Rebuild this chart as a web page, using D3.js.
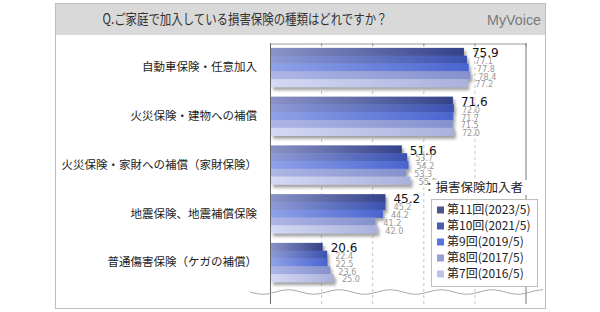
<!DOCTYPE html>
<html>
<head>
<meta charset="utf-8">
<script src="https://cdn.jsdelivr.net/npm/d3@7"></script>
<style>
  body { margin: 0; background: #fff; }
  svg { display: block; font-family: "Noto Sans CJK JP", "Noto Sans", sans-serif; }
</style>
</head>
<body>
<div id="chart"></div>
<script>
// data
var categories = ["自動車保険・任意加入", "火災保険・建物への補償", "火災保険・家財への補償（家財保険）", "地震保険、地震補償保険", "普通傷害保険（ケガの補償）"];
var seriesNames = ["第11回(2023/5)", "第10回(2021/5)", "第9回(2019/5)", "第8回(2017/5)", "第7回(2016/5)"];
var vals2023 = [75.9, 71.6, 51.6, 45.2, 20.6];
var vals2021 = [77.1, 72.0, 53.7, 45.2, 22.4];
var vals2019 = [77.8, 71.7, 54.2, 44.2, 22.5];
var vals2017 = [78.4, 71.5, 53.3, 41.2, 23.6];
var vals2016 = [77.2, 72.0, 55.0, 42.0, 25.0];
var seriesValues = [vals2023, vals2021, vals2019, vals2017, vals2016];
var xTicks = [0, 20, 40, 60, 80, 100];

// colours: gradient left -> right, legend swatch
var gradFrom = ["#8a93c6", "#8d9ad4", "#8fa2e8", "#aeb6e6", "#d5d9f4"];
var gradTo   = ["#34428a", "#3c52b0", "#4a64d0", "#8491cd", "#a9b1dc"];
var swatch   = ["#4b5590", "#4a5db3", "#5874dc", "#95a0d6", "#bcc3e8"];

var W = 600, H = 312;
var svg = d3.select("#chart").append("svg").attr("width", W).attr("height", H);

var defs = svg.append("defs");
seriesNames.forEach(function(s, i) {
  var g = defs.append("linearGradient").attr("id", "grad" + i)
    .attr("x1", 0).attr("x2", 1).attr("y1", 0).attr("y2", 0);
  g.append("stop").attr("offset", "0%").attr("stop-color", gradFrom[i]);
  g.append("stop").attr("offset", "100%").attr("stop-color", gradTo[i]);
});
var f = defs.append("filter").attr("id", "shadow")
  .attr("x", "-5%").attr("y", "-10%").attr("width", "115%").attr("height", "130%");
f.append("feDropShadow").attr("dx", 2).attr("dy", 3).attr("stdDeviation", 1.5)
  .attr("flood-color", "#555").attr("flood-opacity", 0.55);

// frame + title band
svg.append("rect").attr("x", 55.5).attr("y", 3.5).attr("width", 490).attr("height", 305)
  .attr("fill", "#fff").attr("stroke", "#bdbdbd");
svg.append("rect").attr("x", 56).attr("y", 4).attr("width", 489).attr("height", 31)
  .attr("fill", "#d9d9d9");
svg.append("text").attr("x", 245).attr("y", 24).attr("text-anchor", "middle")
  .attr("font-size", 14).attr("fill", "#333")
  .attr("textLength", 285).attr("lengthAdjust", "spacingAndGlyphs")
  .text("Q.ご家庭で加入している損害保険の種類はどれですか？");
svg.append("text").attr("x", 514).attr("y", 25).attr("text-anchor", "middle")
  .attr("font-family", "Liberation Sans").attr("font-size", 15).attr("fill", "#7a7a7a")
  .attr("textLength", 54).attr("lengthAdjust", "spacingAndGlyphs")
  .text("MyVoice");

// scales
var x = d3.scaleLinear().domain([0, 100]).range([270, 525.5]);
var y = d3.scaleBand().domain(categories).range([43, 286.75]).paddingInner(0.2).paddingOuter(0.1);
var ySub = d3.scaleBand().domain(seriesNames).range([0, y.bandwidth()]);
var plotTop = 43, plotBottom = 304;

// grid lines
svg.append("g").selectAll("line").data(xTicks.slice(1, -1)).enter().append("line")
  .attr("x1", function(d) { return x(d) + 0.5; }).attr("x2", function(d) { return x(d) + 0.5; })
  .attr("y1", plotTop).attr("y2", plotBottom)
  .attr("stroke", "#c4c4c4").attr("stroke-dasharray", "3,3");

// top axis
var axTop = svg.append("g").attr("transform", "translate(0," + (plotTop + 0.5) + ")")
  .call(d3.axisTop(x).tickValues(xTicks).tickSize(-3).tickSizeOuter(0).tickFormat(""));
axTop.select(".domain").attr("stroke", "#9a9a9a");
axTop.selectAll(".tick line").attr("stroke", "#9a9a9a");

// side borders
svg.append("line").attr("x1", x(0) + 0.5).attr("x2", x(0) + 0.5).attr("y1", plotTop).attr("y2", plotBottom)
  .attr("stroke", "#666");
svg.append("line").attr("x1", x(100) + 0.5).attr("x2", x(100) + 0.5).attr("y1", plotTop).attr("y2", plotBottom)
  .attr("stroke", "#777");

// wave (axis break mark)
var wavePts = d3.range(250, 544, 1);
svg.append("path").datum(wavePts)
  .attr("d", d3.line().x(function(d) { return d; })
    .y(function(d) { return 292 + 2.2 * Math.sin((d - 250) / 51 * 2 * Math.PI); }))
  .attr("fill", "none").attr("stroke", "#aaa");

// category labels
svg.append("g").selectAll("text").data(categories).enter().append("text")
  .attr("x", 257).attr("y", function(d) { return y(d) + y.bandwidth() / 2; })
  .attr("dy", "0.35em").attr("text-anchor", "end")
  .attr("font-size", 11.5).attr("fill", "#222")
  .text(function(d) { return d; });

// bars
var groups = svg.append("g").selectAll("g").data(categories).enter().append("g")
  .attr("transform", function(d) { return "translate(0," + y(d) + ")"; });
groups.append("g").attr("filter", "url(#shadow)")
  .selectAll("rect").data(function(d, ci) {
    return seriesNames.map(function(s, si) { return { s: s, si: si, v: seriesValues[si][ci] }; });
  }).enter().append("rect")
  .attr("x", x(0) + 1)
  .attr("y", function(d) { return ySub(d.s); })
  .attr("width", function(d) { return x(d.v) - x(0) - 1; })
  .attr("height", ySub.bandwidth() + 0.3)
  .attr("fill", function(d) { return "url(#grad" + d.si + ")"; });

// value labels
groups.selectAll("text").data(function(d, ci) {
    return seriesNames.map(function(s, si) { return { s: s, si: si, v: seriesValues[si][ci] }; });
  }).enter().append("text")
  .attr("x", function(d) { return x(d.v) + 8; })
  .attr("y", function(d) { return ySub(d.s) + ySub.bandwidth() + (d.si === 0 ? 1.5 : 0.5); })
  .attr("font-family", function(d) { return d.si === 0 ? "DejaVu Sans" : "DejaVu Sans Condensed"; })
  .attr("font-size", function(d) { return d.si === 0 ? 12 : 9; })
  .attr("fill", function(d) { return d.si === 0 ? "#111" : "#999"; })
  .text(function(d) { return d3.format(".1f")(d.v); });

// legend
var lg = svg.append("g");
lg.append("rect").attr("x", 429).attr("y", 180).attr("width", 109).attr("height", 15).attr("fill", "#fff");
lg.append("text").attr("x", 423).attr("y", 192).attr("font-size", 12.5).attr("fill", "#222")
  .text("：損害保険加入者");
lg.append("rect").attr("x", 431.5).attr("y", 199.5).attr("width", 106).attr("height", 87)
  .attr("fill", "#fff").attr("stroke", "#bdbdbd");
var li = lg.selectAll(".item").data(seriesNames).enter().append("g").attr("class", "item")
  .attr("transform", function(d, i) { return "translate(437," + (210 + i * 16) + ")"; });
li.append("rect").attr("x", 0).attr("y", -3.5).attr("width", 7).attr("height", 7)
  .attr("fill", function(d, i) { return swatch[i]; });
li.append("text").attr("x", 10).attr("y", 0).attr("dy", "0.35em")
  .attr("font-size", 12).attr("fill", "#222")
  .text(function(d) { return d; });
</script>
</body>
</html>
